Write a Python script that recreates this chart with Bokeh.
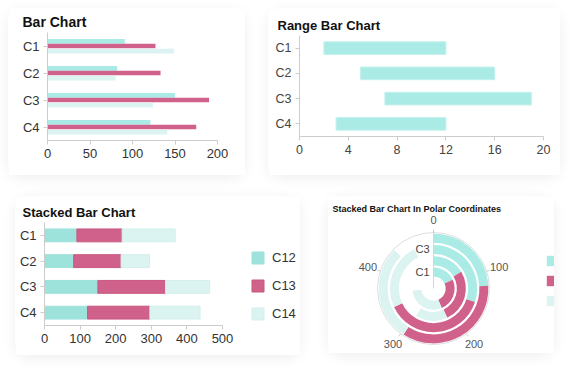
import math
from bokeh.plotting import figure
from bokeh.models import (FactorRange, Range1d, FixedTicker, Legend, LegendItem,
                          Label, ColumnDataSource, Spacer)
from bokeh.layouts import column, row
from bokeh.transform import dodge
from bokeh.core.properties import value
from bokeh.embed import file_html
from bokeh.resources import INLINE

# ---------------- data ----------------
categories = ["C1", "C2", "C3", "C4"]
series = ["C12", "C13", "C14"]
c12 = [91, 82, 150, 121]
c13 = [127, 133, 190, 175]
c14 = [149, 80, 124, 141]
range_start = [2, 5, 7, 3]
range_end = [12, 16, 19, 12]
bar_ticks = [0, 50, 100, 150, 200]
range_ticks = [0, 4, 8, 12, 16, 20]
stack_ticks = [0, 100, 200, 300, 400, 500]
stack_max = 500
polar_ticks = [0, 100, 200, 300, 400]
polar_max = 500
polar_radial_labels = ["C1", "C3"]

# ---------------- style ----------------
FONT = "Liberation Sans"
TEAL = "#aaebe6"
TEAL_S = "#9ee2dc"
PINK = "#d0618a"
PINK_S = "#c9587f"
LIGHT = "#dbf3f1"
LIGHT_S = "#d3efec"
AXIS = "#cccccc"
CARD = {"border-radius": "14px", "box-shadow": "0 3px 14px rgba(0,0,0,0.07)"}


def style_axes(p, label_size, label_color="#333333"):
    p.xgrid.visible = False
    p.ygrid.visible = False
    p.outline_line_color = None
    for ax in p.axis:
        ax.axis_line_color = AXIS
        ax.major_tick_line_color = AXIS
        ax.minor_tick_line_color = None
        ax.major_tick_out = 4
        ax.major_tick_in = 0
        ax.major_label_text_font = FONT
        ax.major_label_text_font_size = label_size
        ax.major_label_text_color = label_color
        ax.major_label_standoff = 4


def style_title(p, size, offset, standoff):
    p.title.text_font = FONT
    p.title.text_font_size = size
    p.title.text_font_style = "bold"
    p.title.text_color = "#111111"
    p.title.offset = offset
    p.title.standoff = standoff


src = ColumnDataSource(dict(cat=categories, C12=c12, C13=c13, C14=c14,
                            start=range_start, end=range_end))

# ---------------- Bar chart ----------------
p1 = figure(width=237, height=167, title="Bar Chart",
            y_range=FactorRange(factors=categories[::-1]), x_range=Range1d(0, 200),
            output_backend="svg", toolbar_location=None, frame_align=False,
            min_border_left=39, min_border_right=28, min_border_top=24, min_border_bottom=35,
            styles=CARD)
p1.hbar(y=dodge("cat", 0.17, range=p1.y_range), right="C12", height=0.17, source=src,
        fill_color=TEAL, line_color=None)
p1.hbar(y=dodge("cat", 0.0, range=p1.y_range), right="C13", height=0.17, source=src,
        fill_color=PINK, line_color=None)
p1.hbar(y=dodge("cat", -0.19, range=p1.y_range), right="C14", height=0.17, source=src,
        fill_color=LIGHT, line_color=None)
style_axes(p1, "13px")
p1.xaxis.ticker = FixedTicker(ticks=bar_ticks)
style_title(p1, "14px", -25, 6)

# ---------------- Range bar chart ----------------
p2 = figure(width=292, height=167, title="Range Bar Chart",
            y_range=FactorRange(factors=categories[::-1]), x_range=Range1d(0, 20),
            output_backend="svg", toolbar_location=None, frame_align=False,
            min_border_left=31, min_border_right=17, min_border_top=27, min_border_bottom=39,
            styles=CARD)
p2.hbar(y="cat", left="start", right="end", height=0.5, source=src,
        fill_color=TEAL, line_color="#c2f1ed")
style_axes(p2, "12.5px", "#444444")
p2.xaxis.ticker = FixedTicker(ticks=range_ticks)
style_title(p2, "13px", -22, 6)

# ---------------- Stacked bar chart ----------------
# frame spans the legend area too; axis is bounded to 0..500 (178 px of 256 px)
P3_W, P3_LEFT, P3_AXIS_PX = 285, 29, 178
p3_frame = P3_W - P3_LEFT
p3 = figure(width=P3_W, height=159, title="Stacked Bar Chart",
            y_range=FactorRange(factors=categories[::-1]),
            x_range=Range1d(0, stack_max * p3_frame / P3_AXIS_PX),
            output_backend="svg", toolbar_location=None, frame_align=False,
            min_border_left=P3_LEFT, min_border_right=0, min_border_top=26, min_border_bottom=30,
            styles=CARD)
rs = p3.hbar_stack(series, y="cat", height=0.5, source=src,
                   fill_color=[TEAL_S, PINK, LIGHT], line_color=[TEAL_S, PINK_S, LIGHT_S])
style_axes(p3, "13px")
p3.xaxis.ticker = FixedTicker(ticks=stack_ticks)
p3.xaxis.bounds = (0, stack_max)
style_title(p3, "13px", -22, 6)
leg3 = Legend(items=[LegendItem(label=s, renderers=[r]) for s, r in zip(series, rs)],
              location=(206, 4), orientation="vertical", padding=0, margin=0,
              spacing=13, glyph_width=15, glyph_height=15, label_height=15,
              label_standoff=7, border_line_color=None, background_fill_alpha=0,
              label_text_font=FONT, label_text_font_size="13px", label_text_color="#333333")
p3.add_layout(leg3, "center")

# ---------------- Polar stacked bar chart ----------------
p4 = figure(width=226, height=157, x_range=Range1d(-105, 121), y_range=Range1d(-65, 92),
            output_backend="svg", toolbar_location=None, min_border=0, frame_align=False,
            x_axis_location=None, y_axis_location=None, styles=CARD)
p4.xgrid.visible = False
p4.ygrid.visible = False
p4.outline_line_color = None

R_IN, BAND, R_OUT = 11.0, 11.25, 56.0


def ang(v):
    return math.pi / 2 - 2 * math.pi * v / polar_max


# axis line & outer circle
p4.segment(x0=[0], y0=[0], x1=[0], y1=[R_OUT], line_color="#d5d5d5", line_width=1)
p4.circle(x=[0], y=[0], radius=R_OUT, fill_color=None, line_color="#dddddd", line_width=1)

vals = {"C12": c12, "C13": c13, "C14": c14}
pcolors = {"C12": TEAL, "C13": PINK, "C14": LIGHT}
cum = [0] * len(categories)
prs = []
for s in series:
    starts = list(cum)
    ends = [a + b for a, b in zip(cum, vals[s])]
    cum = ends
    rc = [R_IN + BAND * (i + 0.5) for i in range(len(categories))]
    ds = ColumnDataSource(dict(
        inner=[r - 4.5 for r in rc], outer=[r + 4.5 for r in rc],
        sa=[ang(v) for v in starts], ea=[ang(v) for v in ends]))
    r = p4.annular_wedge(x=0, y=0, inner_radius="inner", outer_radius="outer",
                         start_angle="sa", end_angle="ea", direction="clock", source=ds,
                         fill_color=pcolors[s], line_color=None)
    prs.append(r)

# angular ticks
tx0 = [R_OUT * math.cos(ang(t)) for t in polar_ticks]
ty0 = [R_OUT * math.sin(ang(t)) for t in polar_ticks]
tx1 = [(R_OUT + 3) * math.cos(ang(t)) for t in polar_ticks]
ty1 = [(R_OUT + 3) * math.sin(ang(t)) for t in polar_ticks]
p4.segment(x0=tx0, y0=ty0, x1=tx1, y1=ty1, line_color="#cccccc")
p4.text(x=[(R_OUT + 13) * math.cos(ang(t)) for t in polar_ticks],
        y=[(R_OUT + 13) * math.sin(ang(t)) for t in polar_ticks],
        text=[str(t) for t in polar_ticks], text_align="center", text_baseline="middle",
        text_font=value(FONT), text_font_size="11px", text_color="#555555")
# radial labels
ry = [R_IN + BAND * (categories.index(c) + 0.5) for c in polar_radial_labels]
p4.text(x=[-4] * len(ry), y=ry, text=polar_radial_labels, text_align="right",
        text_baseline="middle", text_font=value(FONT), text_font_size="11px",
        text_color="#444444")
p4.add_layout(Label(x=-101, y=80, text="Stacked Bar Chart In Polar Coordinates",
                    text_font=FONT, text_font_size="9px", text_font_style="bold",
                    text_color="#111111", text_baseline="alphabetic"))
leg4 = Legend(items=[LegendItem(label=s, renderers=[r]) for s, r in zip(series, prs)],
              location=(217, 46), orientation="vertical", padding=0, margin=0,
              spacing=7, glyph_width=13, glyph_height=13, label_height=13,
              label_standoff=6, border_line_color=None, background_fill_alpha=0,
              label_text_font=FONT, label_text_font_size="11px", label_text_color="#333333")
p4.add_layout(leg4, "center")

layout = column(
    Spacer(height=8),
    row(Spacer(width=8), p1, Spacer(width=23), p2),
    Spacer(height=21),
    row(Spacer(width=15), p3, Spacer(width=28), p4),
)

open("out.html", "w").write(file_html(layout, INLINE))
